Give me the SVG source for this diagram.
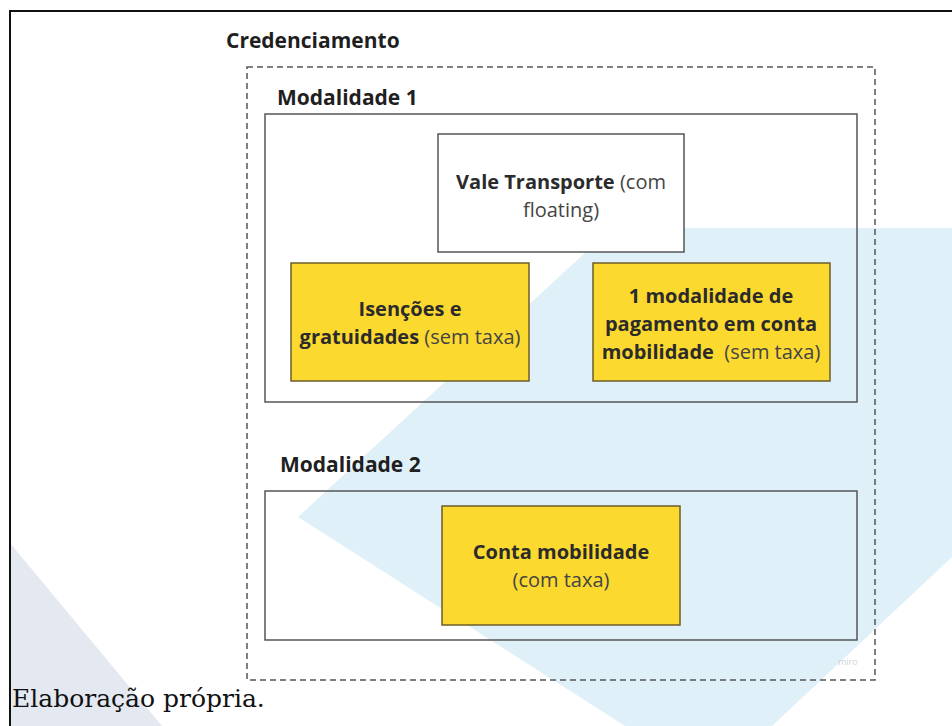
<svg xmlns="http://www.w3.org/2000/svg" width="952" height="726" viewBox="0 0 952 726">
<style>
.t{font-family:"Open Sans","Noto Sans","Liberation Sans",sans-serif;fill:#2b2b2b}
.h{font-size:21px;font-weight:700;fill:#1f1f1f}
.n{font-size:20px;text-anchor:middle}
.b{font-weight:700}
.r{font-weight:400;fill:#444}
.frame{fill:none;stroke:#555;stroke-width:1.5}
.white{fill:#fff;stroke:#555;stroke-width:1.5}
.yellow{fill:#fcd92f;stroke:#6b5e2a;stroke-width:1.5}
</style>
<rect x="0" y="0" width="952" height="726" fill="#fff"/>
<g id="watermark">
<polygon points="612,228 952,228 952,557 772,726 625,726 298,517" fill="#dff0f8"/>
<polygon points="10,543 10,726 162,726" fill="#e4e8f1"/>
</g>
<path d="M10,726 V11 H952" fill="none" stroke="#111" stroke-width="2"/>
<g id="credenciamento">
<text class="t h" x="226" y="48">Credenciamento</text>
<rect x="247" y="67" width="628" height="613" fill="none" stroke="#555" stroke-width="1.5" stroke-dasharray="6,4"/>
<text x="838" y="665" font-family="Open Sans, sans-serif" font-size="9" fill="#cfd3dc">miro</text>
</g>
<g id="modalidade1">
<text class="t h" x="277" y="105">Modalidade 1</text>
<rect class="frame" x="265" y="114" width="592" height="288"/>
</g>
<g id="vale">
<rect class="white" x="438" y="134" width="246" height="118"/>
<text class="t n" x="561" y="189"><tspan class="b">Vale Transporte</tspan><tspan class="r"> (com</tspan></text>
<text class="t n r" x="561" y="217">floating)</text>
</g>
<g id="isencoes">
<rect class="yellow" x="291" y="263" width="238" height="118"/>
<text class="t n b" x="410" y="316">Isenções e</text>
<text class="t n" x="410" y="344"><tspan class="b">gratuidades</tspan><tspan class="r"> (sem taxa)</tspan></text>
</g>
<g id="pagamento">
<rect class="yellow" x="593" y="263" width="237" height="118"/>
<text class="t n b" x="711" y="303">1 modalidade de</text>
<text class="t n b" x="711" y="331">pagamento em conta</text>
<text class="t n" x="711" y="359"><tspan class="b">mobilidade</tspan><tspan class="r" xml:space="preserve">  (sem taxa)</tspan></text>
</g>
<g id="modalidade2">
<text class="t h" x="280" y="472">Modalidade 2</text>
<rect class="frame" x="265" y="491" width="592" height="149"/>
</g>
<g id="conta">
<rect class="yellow" x="442" y="506" width="238" height="119"/>
<text class="t n b" x="561" y="559">Conta mobilidade</text>
<text class="t n r" x="561" y="587">(com taxa)</text>
</g>
<g id="connectors"></g>
<text x="12" y="707" font-family="DejaVu Serif, Liberation Serif, serif" font-size="25" fill="#111">Elaboração própria.</text>
</svg>
